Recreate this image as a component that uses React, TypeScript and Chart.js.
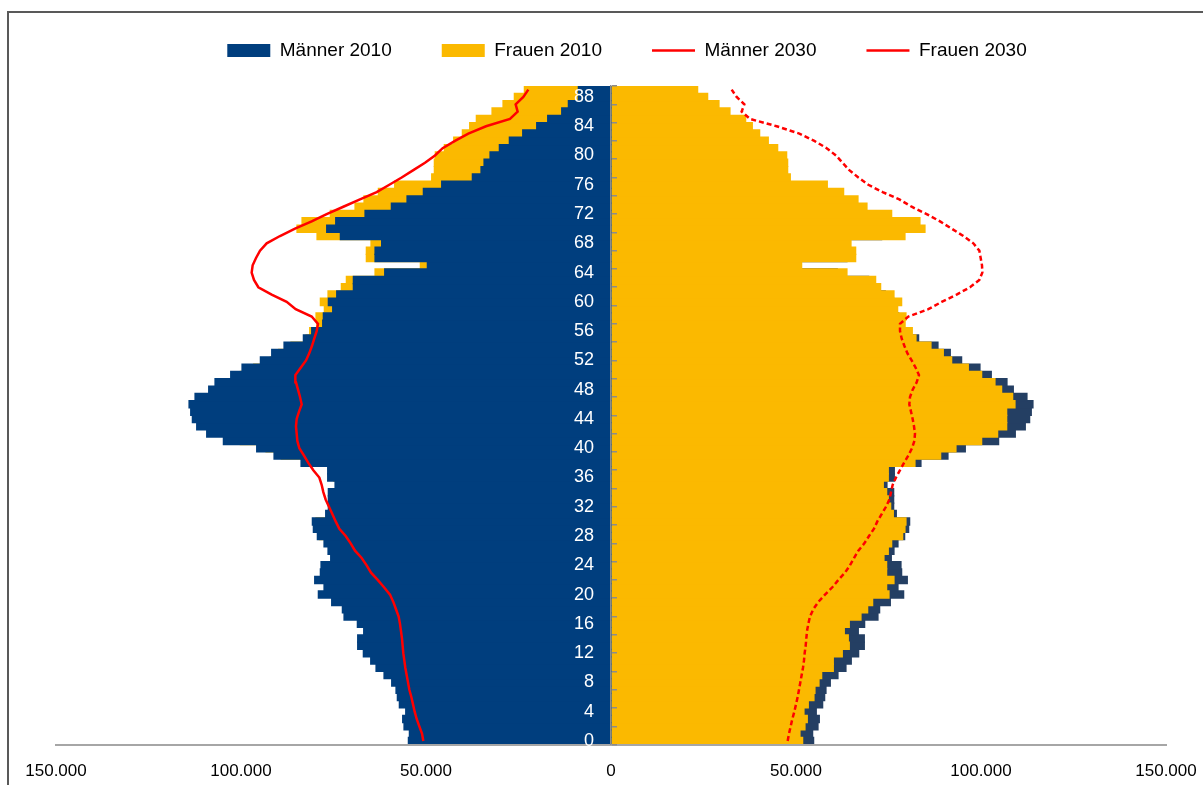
import React, { useEffect, useRef } from 'react';
import { Chart, registerables } from 'chart.js';

Chart.register(...registerables);

// Alter (Kategorien), 0 unten bis 89 oben
const ages = [
  0, 1, 2, 3, 4, 5, 6, 7, 8, 9, 10, 11, 12, 13, 14, 15, 16, 17, 18, 19,
  20, 21, 22, 23, 24, 25, 26, 27, 28, 29, 30, 31, 32, 33, 34, 35, 36, 37, 38, 39,
  40, 41, 42, 43, 44, 45, 46, 47, 48, 49, 50, 51, 52, 53, 54, 55, 56, 57, 58, 59,
  60, 61, 62, 63, 64, 65, 66, 67, 68, 69, 70, 71, 72, 73, 74, 75, 76, 77, 78, 79,
  80, 81, 82, 83, 84, 85, 86, 87, 88, 89,
];

const maenner2010 = [
  54770, 54500, 55950, 56310, 55490, 57210, 57750, 58110, 59280, 61350,
  63510, 64950, 66940, 68470, 68470, 66850, 68560, 72160, 72610, 75500,
  79100, 77570, 80090, 78560, 78380, 75770, 76490, 77570, 79370, 80450,
  80720, 77120, 76400, 76400, 76400, 74590, 76580, 76580, 83780, 91080,
  95770, 104770, 109280, 111980, 113150, 113600, 114050, 112430, 108740, 107030,
  102790, 99730, 94770, 91710, 88380, 83150, 80900, 77930, 77750, 75230,
  76400, 74140, 69640, 69640, 61170, 49640, 63780, 63780, 62000, 73150,
  76850, 74410, 66490, 59370, 55135, 50720, 45770, 37480, 35140, 34320,
  32700, 30180, 27480, 23870, 20090, 17120, 13330, 11530, 8830, 8830,
];

const frauen2010 = [
  51800, 51080, 52430, 53060, 52160, 53330, 54860, 55130, 56220, 56940,
  60090, 60090, 62520, 64410, 64140, 63060, 64410, 67570, 69370, 70720,
  75140, 74500, 76490, 74500, 74500, 73780, 74950, 75860, 78830, 79460,
  79730, 76310, 75590, 74950, 74500, 73600, 74950, 74950, 82160, 89100,
  93240, 100180, 104500, 106940, 106940, 106940, 109190, 108560, 105580, 103780,
  100180, 96580, 92070, 89820, 86490, 82430, 81440, 79500, 79730, 77480,
  78560, 76490, 72880, 71530, 63780, 51530, 66130, 66130, 64870, 79460,
  84870, 83510, 75860, 69190, 66760, 62880, 58470, 48470, 47750, 47750,
  47480, 45050, 42520, 40180, 38200, 36400, 32160, 29190, 26130, 23420,
];

const maenner2030 = [
  50720, 51080, 51800, 52520, 53060, 53510, 53960, 54500, 54860, 55230,
  55590, 55860, 56130, 56310, 56490, 56760, 57030, 57390, 58110, 58830,
  59730, 61350, 63060, 64860, 66040, 67390, 69190, 70360, 71710, 73420,
  74410, 75320, 76220, 77120, 77750, 78200, 78830, 80450, 81800, 82970,
  84230, 84770, 84950, 85140, 84950, 84320, 83600, 84050, 84590, 85140,
  85310, 83870, 82430, 81530, 80810, 80180, 79550, 79190, 80900, 85220,
  87660, 91710, 95310, 96490, 97120, 96850, 95940, 94860, 93060, 89460,
  85400, 80900, 76850, 72340, 67840, 63330, 59910, 56580, 53420, 50270,
  47570, 45500, 42160, 38560, 33780, 27300, 25230, 25770, 23690, 22340,
];

const frauen2030 = [
  47750, 48110, 48560, 49010, 49550, 50000, 50450, 50810, 51170, 51530,
  51890, 52160, 52340, 52610, 52790, 52970, 53330, 53780, 54680, 56040,
  57840, 59820, 61440, 63240, 64590, 65680, 66850, 68470, 69730, 71080,
  71980, 73150, 74320, 75230, 75680, 76130, 77030, 78110, 79190, 80360,
  81350, 82000, 82160, 81890, 81530, 81080, 80630, 80810, 81530, 82610,
  83240, 82340, 81260, 80090, 79280, 78560, 78110, 78110, 80360, 85770,
  89370, 93420, 97030, 99550, 100360, 100270, 99910, 99550, 97930, 95230,
  92070, 88920, 85310, 81260, 77930, 73420, 69550, 66850, 64410, 62610,
  60810, 58290, 54950, 50900, 44770, 37570, 35310, 36040, 33960, 32610,
];

const seriesNames = ['Männer 2010', 'Frauen 2010', 'Männer 2030', 'Frauen 2030'];
const xTickValues = [-150000, -100000, -50000, 0, 50000, 100000, 150000];
const ageTickEvery = 4;
const minorTickValues = [
  0, 1, 2, 3, 4, 5, 6, 7, 8, 9, 10, 11, 12, 13, 14, 15, 16, 17, 18,
  19, 20, 21, 22, 23, 24, 25, 26, 27, 28, 29, 30, 31, 32, 33, 34, 35, 36,
];

const BLUE = '#003E7E';
const BLUE_BACK = '#243F63';
const GOLD = '#FBB900';
const RED = '#FF0000';
const FONT = "'Liberation Sans', Arial, sans-serif";

const fmt = (v: number) => String(Math.abs(v)).replace(/\B(?=(\d{3})+(?!\d))/g, '.');
const neg = (arr: number[]) => arr.map((v) => -v);

export default function App() {
  const ref = useRef<HTMLCanvasElement | null>(null);

  useEffect(() => {
    if (!ref.current) return;
    const barCommon = {
      type: 'bar' as const,
      indexAxis: 'y' as const,
      grouped: false,
      barPercentage: 1,
      categoryPercentage: 1,
      borderWidth: 0,
      inflateAmount: 0.6,
      pointStyle: 'rect',
      xAxisID: 'x',
      yAxisID: 'y',
    };
    const lineCommon = {
      type: 'line' as const,
      indexAxis: 'y' as const,
      borderColor: RED,
      backgroundColor: RED,
      borderWidth: 2.5,
      pointRadius: 0,
      pointHoverRadius: 0,
      pointStyle: 'line',
      fill: false,
      tension: 0,
      xAxisID: 'x',
      yAxisID: 'y',
      order: 0,
    };

    const legendShift = {
      id: 'legendShift',
      afterLayout(chart: any) {
        const lg = chart.legend;
        if (lg) {
          lg.left += 16;
          lg.right += 16;
          lg.top -= 16;
          lg.bottom -= 16;
        }
      },
    };

    const chart = new Chart(ref.current, {
      data: {
        labels: ages,
        datasets: [
          { ...barCommon, label: seriesNames[0], data: neg(maenner2010), backgroundColor: BLUE, order: 1 },
          { ...barCommon, label: seriesNames[1], data: frauen2010, backgroundColor: GOLD, order: 1 },
          { ...lineCommon, label: seriesNames[2], data: neg(maenner2030) },
          { ...lineCommon, label: seriesNames[3], data: frauen2030, borderDash: [5, 3] },
          { ...barCommon, label: seriesNames[1] + ' ', data: neg(frauen2010), backgroundColor: GOLD, order: 2 },
          { ...barCommon, label: seriesNames[0] + ' ', data: maenner2010, backgroundColor: BLUE_BACK, order: 2 },
        ] as any,
      },
      options: {
        indexAxis: 'y',
        animation: false,
        responsive: false,
        maintainAspectRatio: false,
        layout: { padding: { left: 56, right: 37, top: 7, bottom: 0 } },
        plugins: {
          tooltip: { enabled: false },
          legend: {
            position: 'top',
            align: 'center',
            labels: {
              filter: (item: any) => item.datasetIndex < 4,
              sort: (a: any, b: any) => a.datasetIndex - b.datasetIndex,
              usePointStyle: true,
              pointStyleWidth: 43,
              boxHeight: 13,
              padding: 50,
              color: '#000',
              font: { family: FONT, size: 19 },
            },
          },
        },
        scales: {
          x: {
            type: 'linear',
            position: 'bottom',
            min: -150000,
            max: 150000,
            afterBuildTicks: (axis: any) => {
              axis.ticks = xTickValues.map((v) => ({ value: v }));
            },
            ticks: {
              callback: (v: any) => fmt(Number(v)),
              color: '#000',
              font: { family: FONT, size: 17 },
              padding: 3,
              maxRotation: 0,
            },
            grid: { display: false, drawTicks: true, tickLength: 14 },
            border: { display: true, color: '#A6A6A6', width: 2, z: 1 },
          },
          // category axis: only the white age labels, placed just left of the zero line
          y: {
            type: 'category',
            reverse: true,
            position: { x: -4600 } as any,
            ticks: {
              autoSkip: false,
              maxRotation: 0,
              color: '#FFFFFF',
              font: { family: FONT, size: 18 },
              padding: 0,
              z: 2,
              callback: (_v: any, i: number) => (i % ageTickEvery === 0 ? String(ages[i]) : ''),
            },
            grid: { display: false, drawTicks: false },
            border: { display: false },
          },
          // minor tick marks on the right side of the zero line
          y2: {
            type: 'linear',
            position: { x: 1490 } as any,
            min: 0,
            max: 36,
            afterBuildTicks: (axis: any) => {
              axis.ticks = minorTickValues.map((v) => ({ value: v }));
            },
            ticks: { display: false },
            grid: { drawOnChartArea: false, drawTicks: true, tickLength: 5, color: '#8C8C8C', lineWidth: 1.5, z: 2 },
            border: { display: false },
          },
          // the vertical zero line
          y3: {
            type: 'linear',
            position: { x: 0 } as any,
            min: 0,
            max: 1,
            ticks: { display: false },
            grid: { display: false, drawTicks: false },
            border: { display: true, color: '#8C8C8C', width: 1.5, z: 2 },
          },
        },
      } as any,
      plugins: [legendShift],
    });
    return () => chart.destroy();
  }, []);

  return (
    <div style={{ position: 'fixed', left: 0, top: 0, width: 1203, height: 785, overflow: 'hidden', background: '#fff' }}>
      <div
        style={{
          position: 'absolute',
          left: 7,
          top: 11,
          width: 1400,
          height: 1000,
          borderTop: '2px solid #595959',
          borderLeft: '2px solid #595959',
        }}
      />
      <canvas ref={ref} width={1203} height={785} style={{ position: 'absolute', left: 0, top: 0, width: 1203, height: 785 }} />
    </div>
  );
}
